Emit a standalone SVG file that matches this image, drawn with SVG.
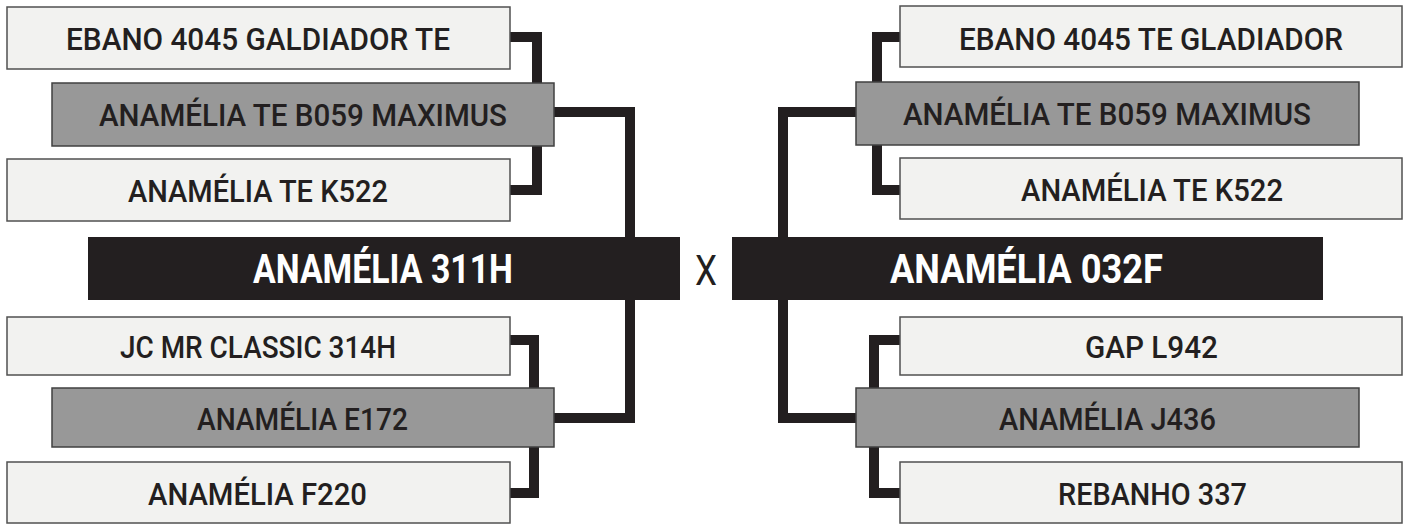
<svg xmlns="http://www.w3.org/2000/svg" width="1410" height="524" viewBox="0 0 1410 524">
<style>
.lt{fill:#f2f2f0;stroke:#505050;stroke-width:1.5}
.gr{fill:#989898;stroke:#404040;stroke-width:1.5}
.bk{fill:#231f20}
.t{font-family:Roboto,"Liberation Sans",Arial,sans-serif;font-size:32px;font-weight:500;fill:#231f20}
.tb{font-family:Roboto,"Liberation Sans",Arial,sans-serif;font-size:41px;font-weight:bold;fill:#ffffff}
.c{fill:none;stroke:#231f20;stroke-width:10;stroke-linejoin:miter}
</style>
<rect width="1410" height="524" fill="#ffffff"/>
<g id="connectors">
<path class="c" d="M505,37 H537 V190 H505"/>
<path class="c" d="M550,112 H630 V245"/>
<path class="c" d="M630,295 V418 H550"/>
<path class="c" d="M505,340 H534 V493 H505"/>
<path class="c" d="M905,37 H877 V190 H905"/>
<path class="c" d="M860,112 H783 V245"/>
<path class="c" d="M783,295 V418 H860"/>
<path class="c" d="M905,340 H874 V493 H905"/>
</g>
<g id="l1"><rect class="lt" x="7" y="7" width="503" height="62"/><text class="t" x="66" y="50" textLength="384" lengthAdjust="spacingAndGlyphs">EBANO 4045 GALDIADOR TE</text></g>
<g id="l2"><rect class="gr" x="52" y="83" width="502" height="63"/><text class="t" x="99" y="126" textLength="408" lengthAdjust="spacingAndGlyphs">ANAMÉLIA TE B059 MAXIMUS</text></g>
<g id="l3"><rect class="lt" x="7" y="159" width="503" height="62"/><text class="t" x="128" y="202" textLength="260" lengthAdjust="spacingAndGlyphs">ANAMÉLIA TE K522</text></g>
<g id="lmain"><rect class="bk" x="88" y="237" width="592" height="63"/><text class="tb" x="253" y="283" textLength="260" lengthAdjust="spacingAndGlyphs">ANAMÉLIA 311H</text></g>
<g id="l4"><rect class="lt" x="7" y="317" width="503" height="58"/><text class="t" x="120" y="358" textLength="276" lengthAdjust="spacingAndGlyphs">JC MR CLASSIC 314H</text></g>
<g id="l5"><rect class="gr" x="52" y="388" width="502" height="59"/><text class="t" x="197" y="430" textLength="211" lengthAdjust="spacingAndGlyphs">ANAMÉLIA E172</text></g>
<g id="l6"><rect class="lt" x="7" y="462" width="503" height="61"/><text class="t" x="148" y="505" textLength="219" lengthAdjust="spacingAndGlyphs">ANAMÉLIA F220</text></g>
<g id="x"><text class="t" x="695" y="285" textLength="22" lengthAdjust="spacingAndGlyphs" style="font-size:42px;font-weight:400">X</text></g>
<g id="r1"><rect class="lt" x="900" y="6" width="502" height="61"/><text class="t" x="959" y="50" textLength="384" lengthAdjust="spacingAndGlyphs">EBANO 4045 TE GLADIADOR</text></g>
<g id="r2"><rect class="gr" x="856" y="82" width="503" height="63"/><text class="t" x="903" y="125" textLength="408" lengthAdjust="spacingAndGlyphs">ANAMÉLIA TE B059 MAXIMUS</text></g>
<g id="r3"><rect class="lt" x="900" y="158" width="502" height="61"/><text class="t" x="1021" y="201" textLength="262" lengthAdjust="spacingAndGlyphs">ANAMÉLIA TE K522</text></g>
<g id="rmain"><rect class="bk" x="732" y="237" width="591" height="63"/><text class="tb" x="890" y="283" textLength="273" lengthAdjust="spacingAndGlyphs">ANAMÉLIA 032F</text></g>
<g id="r4"><rect class="lt" x="900" y="317" width="502" height="58"/><text class="t" x="1085" y="358" textLength="133" lengthAdjust="spacingAndGlyphs">GAP L942</text></g>
<g id="r5"><rect class="gr" x="856" y="388" width="503" height="59"/><text class="t" x="999" y="430" textLength="217" lengthAdjust="spacingAndGlyphs">ANAMÉLIA J436</text></g>
<g id="r6"><rect class="lt" x="900" y="462" width="502" height="61"/><text class="t" x="1058" y="505" textLength="189" lengthAdjust="spacingAndGlyphs">REBANHO 337</text></g>
</svg>
